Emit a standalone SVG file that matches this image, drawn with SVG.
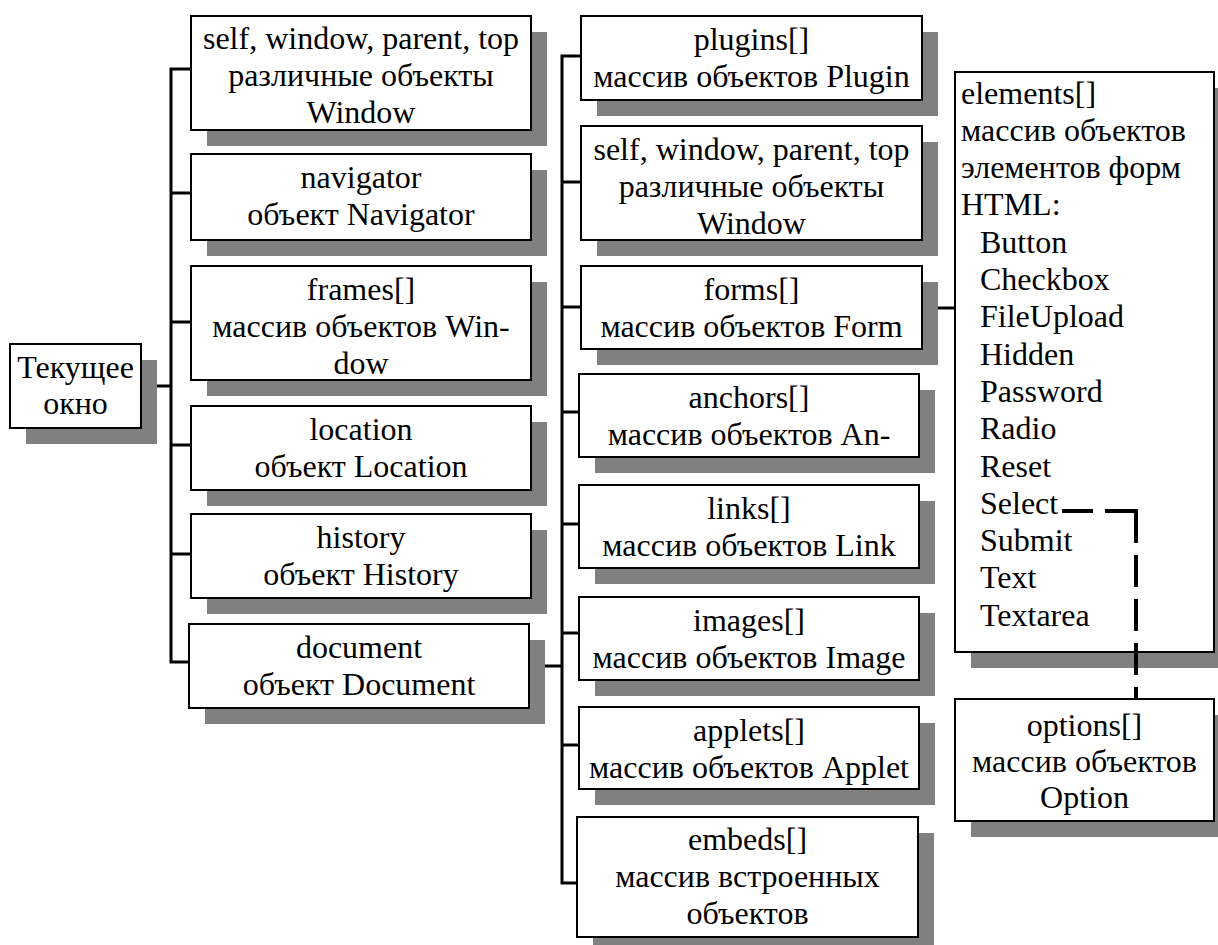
<svg xmlns="http://www.w3.org/2000/svg" width="1218" height="945" viewBox="0 0 1218 945">
<style>
.sh{fill:#808080}
.bx{fill:#fff;stroke:#000;stroke-width:2}
.t{font-family:"Liberation Serif","Times New Roman",serif;font-size:32px;fill:#000}
.c{text-anchor:middle}
.con{fill:none;stroke:#000;stroke-width:3;stroke-linejoin:miter;stroke-linecap:butt}
.dash{fill:none;stroke:#000;stroke-width:4;stroke-dasharray:31 12 63 12 32 12 32 12 32 12}
</style>
<rect width="1218" height="945" fill="#fff"/>
<g id="connectors">
<path class="con" d="M191,69 H171 V662 H189"/>
<path class="con" d="M171,193 H191 M171,322 H191 M171,445 H191 M171,554 H191"/>
<path class="con" d="M141,386 H171"/>
<path class="con" d="M581,56 H562 V883 H577"/>
<path class="con" d="M562,182 H581 M562,307 H581 M562,412 H579 M562,524 H579 M562,633 H579 M562,745 H579"/>
<path class="con" d="M529,666 H562"/>
<path class="con" d="M922,308 H955"/>
</g>
<g id="n-current">
<rect class="sh" x="26" y="360" width="131" height="84"/>
<rect class="bx" x="10" y="344" width="131" height="84"/>
<text class="t c" x="75.5"><tspan x="75.5" y="377.5">Текущее</tspan><tspan x="75.5" y="413.5">окно</tspan></text>
</g>
<g id="n-self1">
<rect class="sh" x="207" y="32" width="340" height="114"/>
<rect class="bx" x="191" y="16" width="340" height="114"/>
<text class="t c"><tspan x="361" y="49">self, window, parent, top</tspan><tspan x="361" y="86">различные объекты</tspan><tspan x="361" y="123">Window</tspan></text>
</g>
<g id="n-navigator">
<rect class="sh" x="207" y="170" width="340" height="86"/>
<rect class="bx" x="191" y="154" width="340" height="86"/>
<text class="t c"><tspan x="361" y="187.5">navigator</tspan><tspan x="361" y="224.5">объект Navigator</tspan></text>
</g>
<g id="n-frames">
<rect class="sh" x="207" y="282" width="340" height="114"/>
<rect class="bx" x="191" y="266" width="340" height="114"/>
<text class="t c"><tspan x="361" y="299.5">frames[]</tspan><tspan x="361" y="336.5">массив объектов Win-</tspan><tspan x="361" y="373.5">dow</tspan></text>
</g>
<g id="n-location">
<rect class="sh" x="207" y="422" width="340" height="84"/>
<rect class="bx" x="191" y="406" width="340" height="84"/>
<text class="t c"><tspan x="361" y="439.5">location</tspan><tspan x="361" y="476.5">объект Location</tspan></text>
</g>
<g id="n-history">
<rect class="sh" x="207" y="530" width="340" height="84"/>
<rect class="bx" x="191" y="514" width="340" height="84"/>
<text class="t c"><tspan x="361" y="547.5">history</tspan><tspan x="361" y="584.5">объект History</tspan></text>
</g>
<g id="n-document">
<rect class="sh" x="205" y="640" width="340" height="84"/>
<rect class="bx" x="189" y="624" width="340" height="84"/>
<text class="t c"><tspan x="359" y="657.5">document</tspan><tspan x="359" y="694.5">объект Document</tspan></text>
</g>
<g id="n-plugins">
<rect class="sh" x="597" y="32" width="341" height="84"/>
<rect class="bx" x="581" y="16" width="341" height="84"/>
<text class="t c"><tspan x="751.5" y="49.5">plugins[]</tspan><tspan x="751.5" y="86.5">массив объектов Plugin</tspan></text>
</g>
<g id="n-self2">
<rect class="sh" x="597" y="142" width="341" height="114"/>
<rect class="bx" x="581" y="126" width="341" height="114"/>
<text class="t c"><tspan x="751.5" y="159.5">self, window, parent, top</tspan><tspan x="751.5" y="196.5">различные объекты</tspan><tspan x="751.5" y="233.5">Window</tspan></text>
</g>
<g id="n-forms">
<rect class="sh" x="597" y="282" width="341" height="83"/>
<rect class="bx" x="581" y="266" width="341" height="83"/>
<text class="t c"><tspan x="751.5" y="299.5">forms[]</tspan><tspan x="751.5" y="336.5">массив объектов Form</tspan></text>
</g>
<g id="n-anchors">
<rect class="sh" x="595" y="390" width="340" height="83"/>
<rect class="bx" x="579" y="374" width="340" height="83"/>
<text class="t c"><tspan x="749" y="407.5">anchors[]</tspan><tspan x="749" y="444.5">массив объектов An-</tspan></text>
</g>
<g id="n-links">
<rect class="sh" x="595" y="501" width="340" height="83"/>
<rect class="bx" x="579" y="485" width="340" height="83"/>
<text class="t c"><tspan x="749" y="518.5">links[]</tspan><tspan x="749" y="555.5">массив объектов Link</tspan></text>
</g>
<g id="n-images">
<rect class="sh" x="595" y="613" width="340" height="83"/>
<rect class="bx" x="579" y="597" width="340" height="83"/>
<text class="t c"><tspan x="749" y="630.5">images[]</tspan><tspan x="749" y="667.5">массив объектов Image</tspan></text>
</g>
<g id="n-applets">
<rect class="sh" x="595" y="723" width="340" height="82"/>
<rect class="bx" x="579" y="707" width="340" height="82"/>
<text class="t c"><tspan x="749" y="740.5">applets[]</tspan><tspan x="749" y="777.5">массив объектов Applet</tspan></text>
</g>
<g id="n-embeds">
<rect class="sh" x="593" y="833" width="341" height="120"/>
<rect class="bx" x="577" y="817" width="341" height="120"/>
<text class="t c"><tspan x="747.5" y="849.5">embeds[]</tspan><tspan x="747.5" y="886.5">массив встроенных</tspan><tspan x="747.5" y="923.5">объектов</tspan></text>
</g>
<g id="n-elements">
<rect class="sh" x="971" y="88" width="259" height="580"/>
<rect class="bx" x="955" y="72" width="259" height="580"/>
<text class="t"><tspan x="961" y="103.5">elements[]</tspan><tspan x="961" y="140.8">массив объектов</tspan><tspan x="961" y="178.1">элементов форм</tspan><tspan x="961" y="215.4">HTML:</tspan><tspan x="980" y="252.7">Button</tspan><tspan x="980" y="290">Checkbox</tspan><tspan x="980" y="327.3">FileUpload</tspan><tspan x="980" y="364.6">Hidden</tspan><tspan x="980" y="401.9">Password</tspan><tspan x="980" y="439.2">Radio</tspan><tspan x="980" y="476.5">Reset</tspan><tspan x="980" y="513.8">Select</tspan><tspan x="980" y="551.1">Submit</tspan><tspan x="980" y="588.4">Text</tspan><tspan x="980" y="625.7">Textarea</tspan></text>
</g>
<g id="n-options">
<rect class="sh" x="971" y="715" width="259" height="122"/>
<rect class="bx" x="955" y="699" width="259" height="122"/>
<text class="t c"><tspan x="1084.5" y="736">options[]</tspan><tspan x="1084.5" y="772">массив объектов</tspan><tspan x="1084.5" y="808">Option</tspan></text>
</g>
<g id="dashed-connector">
<path class="dash" d="M1062,511 H1136 V699"/>
</g>
</svg>
